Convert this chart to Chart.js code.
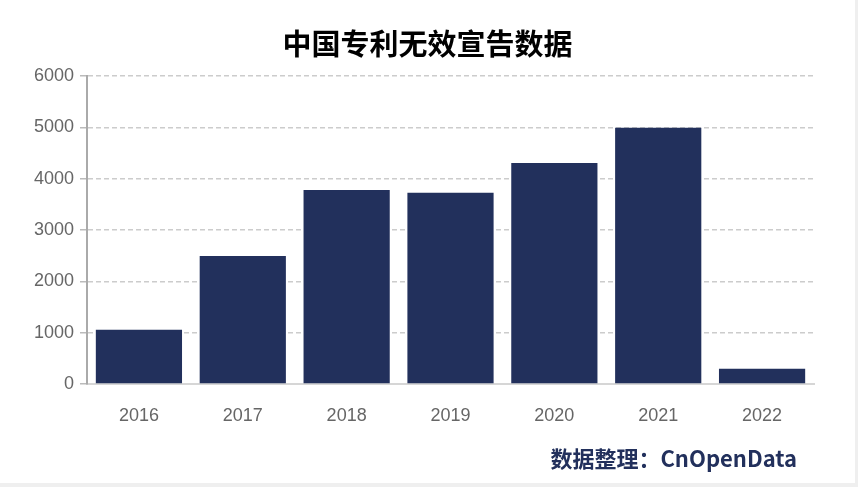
<!DOCTYPE html>
<html lang="zh">
<head>
  <meta charset="UTF-8">
  <title>中国专利无效宣告数据</title>
  <script src="https://cdn.jsdelivr.net/npm/chart.js"></script>
  <style>
    html, body {
      margin: 0;
      padding: 0;
      background: #efefef;
    }
    .card {
      position: relative;
      width: 855px;
      height: 483px;
      background: white;
    }
    #title {
      position: absolute;
      left: 0;
      top: 22px;
      width: 855px;
      text-align: center;
      font-family: "Noto Sans CJK SC", sans-serif;
      font-weight: bold;
      font-size: 29px;
      line-height: 40px;
      color: #000;
    }
    #source {
      position: absolute;
      right: 58px;
      top: 442px;
      font-family: "Noto Sans CJK SC", sans-serif;
      font-weight: bold;
      font-size: 22px;
      color: #22305c;
      line-height: 30px;
    }
  </style>
</head>
<body>
  <div class="card">
    <canvas id="chart" width="855" height="483"></canvas>
    <div id="title">中国专利无效宣告数据</div>
    <div id="source">数据整理：CnOpenData</div>
  </div>

  <script>
    const years = ['2016', '2017', '2018', '2019', '2020', '2021', '2022'];
    const counts = [1055, 2495, 3780, 3725, 4305, 4990, 295];
    const yTicks = [0, 1000, 2000, 3000, 4000, 5000, 6000];

    const ctx = document.getElementById('chart').getContext('2d');
    new Chart(ctx, {
      type: 'bar',
      data: {
        labels: years,
        datasets: [{
          label: '无效宣告数量',
          data: counts,
          backgroundColor: '#22305c',
          barPercentage: 0.83,
          categoryPercentage: 1
        }]
      },
      options: {
        responsive: false,
        animation: false,
        layout: {
          padding: { left: 0, right: 41, top: 76, bottom: 49 }
        },
        plugins: {
          legend: { display: false },
          tooltip: { enabled: false }
        },
        scales: {
          x: {
            grid: { display: false, drawTicks: false },
            border: { display: true, color: '#d6d6d6', width: 2 },
            ticks: {
              color: '#666',
              padding: 21,
              font: { family: '"Liberation Sans", Arial, sans-serif', size: 18 }
            },
            afterFit: s => { s.height = 50; }
          },
          y: {
            min: 0,
            max: 6000,
            afterBuildTicks: s => { s.ticks = yTicks.map(v => ({ value: v })); },
            grid: {
              color: '#cccccc',
              lineWidth: 1.5,
              tickLength: 7,
              tickColor: '#bbbbbb',
              tickBorderDash: [],
              tickWidth: 1.5
            },
            border: { display: true, color: '#aaaaaa', width: 2, dash: [5, 3] },
            ticks: {
              color: '#666',
              padding: 6,
              callback: v => String(v),
              font: { family: '"Liberation Sans", Arial, sans-serif', size: 18 }
            },
            afterFit: s => { s.width = 87; }
          }
        }
      }
    });
  </script>
</body>
</html>
